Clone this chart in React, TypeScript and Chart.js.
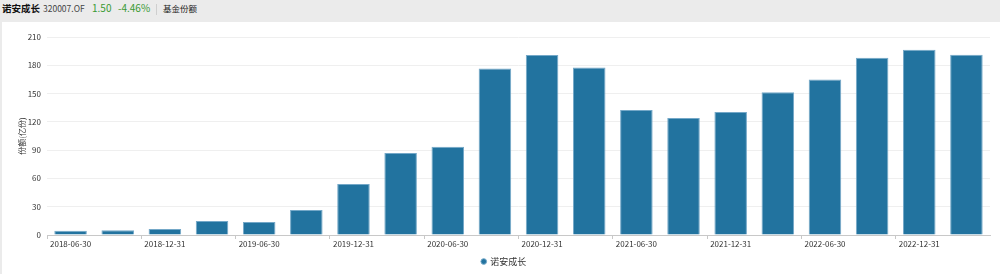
import React, { useEffect, useRef } from "react";
import { Chart, registerables } from "chart.js";

Chart.register(...registerables);

const categories = [
  "2018-06-30", "2018-09-30", "2018-12-31", "2019-03-31", "2019-06-30",
  "2019-09-30", "2019-12-31", "2020-03-31", "2020-06-30", "2020-09-30",
  "2020-12-31", "2021-03-31", "2021-06-30", "2021-09-30", "2021-12-31",
  "2022-03-31", "2022-06-30", "2022-09-30", "2022-12-31", "2023-03-31",
];
const shareValues = [
  4.6, 5.0, 6.4, 14.9, 13.9, 26.6, 54.0, 87.1, 93.5, 176.6,
  190.8, 177.7, 132.5, 124.0, 130.4, 151.4, 164.9, 188.0, 196.5, 191.2,
];
const seriesName = "诺安成长";
const yTitle = "份额(亿份)";
const fundCode = "320007.OF";
const navValue = "1.50";
const navChange = "-4.46%";
const tabLabel = "基金份额";

const FONT = "'Noto Sans CJK SC', 'Noto Sans', sans-serif";

const legendShift = {
  id: "legendShift",
  afterLayout(chart: any) {
    const lg = chart.legend;
    if (lg) {
      lg.left += 8;
      lg.right += 8;
      lg.top += 2;
      lg.bottom += 2;
    }
  },
};

export default function App() {
  const ref = useRef<HTMLCanvasElement | null>(null);

  useEffect(() => {
    document.body.style.margin = "0";
    const canvas = ref.current;
    if (!canvas) return;
    const chart = new Chart(canvas, {
      type: "bar",
      data: {
        labels: categories,
        datasets: [
          {
            label: seriesName,
            data: shareValues,
            backgroundColor: "#22739f",
            borderColor: "#74a8c8",
            borderWidth: 1,
            barPercentage: 0.69,
            categoryPercentage: 1,
          },
        ],
      },
      plugins: [legendShift],
      options: {
        animation: false,
        responsive: false,
        maintainAspectRatio: false,
        layout: { padding: { top: 15, right: 10, left: 0, bottom: 0 } },
        plugins: {
          tooltip: { enabled: false },
          legend: {
            position: "bottom",
            labels: {
              usePointStyle: true,
              pointStyle: "circle",
              boxWidth: 4,
              boxHeight: 4,
              padding: 3,
              color: "#333",
              font: { family: FONT, size: 9 },
            },
          },
        },
        scales: {
          x: {
            type: "category",
            offset: true,
            grid: {
              offset: true,
              drawOnChartArea: false,
              drawTicks: true,
              tickLength: 4,
              color: (ctx: any) => (ctx.index % 2 === 0 ? "#c8c8c8" : "rgba(0,0,0,0)"),
            },
            border: { display: true, color: "#c8c8c8" },
            ticks: {
              autoSkip: false,
              maxRotation: 0,
              padding: 0,
              color: "#333",
              font: { family: FONT, size: 8 },
              callback: (_v: any, i: number) => (i % 2 === 0 ? categories[i] : ""),
            },
            afterFit: (scale: any) => {
              scale.height = 17;
            },
          },
          y: {
            min: 0,
            max: 210,
            ticks: {
              stepSize: 30,
              padding: 6,
              color: "#333",
              font: { family: FONT, size: 8 },
            },
            grid: { color: "#efefef", drawTicks: false },
            border: { display: false },
            title: {
              display: true,
              text: yTitle,
              color: "#333",
              font: { family: FONT, size: 8 },
              padding: { top: 15, bottom: 0 },
            },
            afterFit: (scale: any) => {
              scale.width = 45;
            },
          },
        },
      },
    });
    return () => chart.destroy();
  }, []);

  const base: React.CSSProperties = {
    position: "absolute",
    top: 0,
    height: 22,
    lineHeight: "16px",
    fontFamily: FONT,
    whiteSpace: "nowrap",
  };

  return (
    <div style={{ position: "relative", width: 1000, height: 274, background: "#ebebeb", overflow: "hidden" }}>
      <span style={{ ...base, left: 2, fontSize: 9.5, fontWeight: 700, color: "#111" }}>{seriesName}</span>
      <span style={{ ...base, left: 43, fontSize: 8.5, color: "#444" }}>{fundCode}</span>
      <span style={{ ...base, left: 92, fontSize: 10, color: "#3a9a33" }}>{navValue}</span>
      <span style={{ ...base, left: 118, fontSize: 10, color: "#3a9a33" }}>{navChange}</span>
      <span style={{ position: "absolute", left: 156, top: 4, width: 1, height: 11, background: "#cfcfcf" }} />
      <span style={{ ...base, left: 163, fontSize: 8.5, color: "#222" }}>{tabLabel}</span>
      <div style={{ position: "absolute", left: 2, top: 22, width: 998, height: 252, background: "#fff" }}>
        <canvas ref={ref} width={998} height={252} style={{ display: "block", width: 998, height: 252 }} />
      </div>
    </div>
  );
}
